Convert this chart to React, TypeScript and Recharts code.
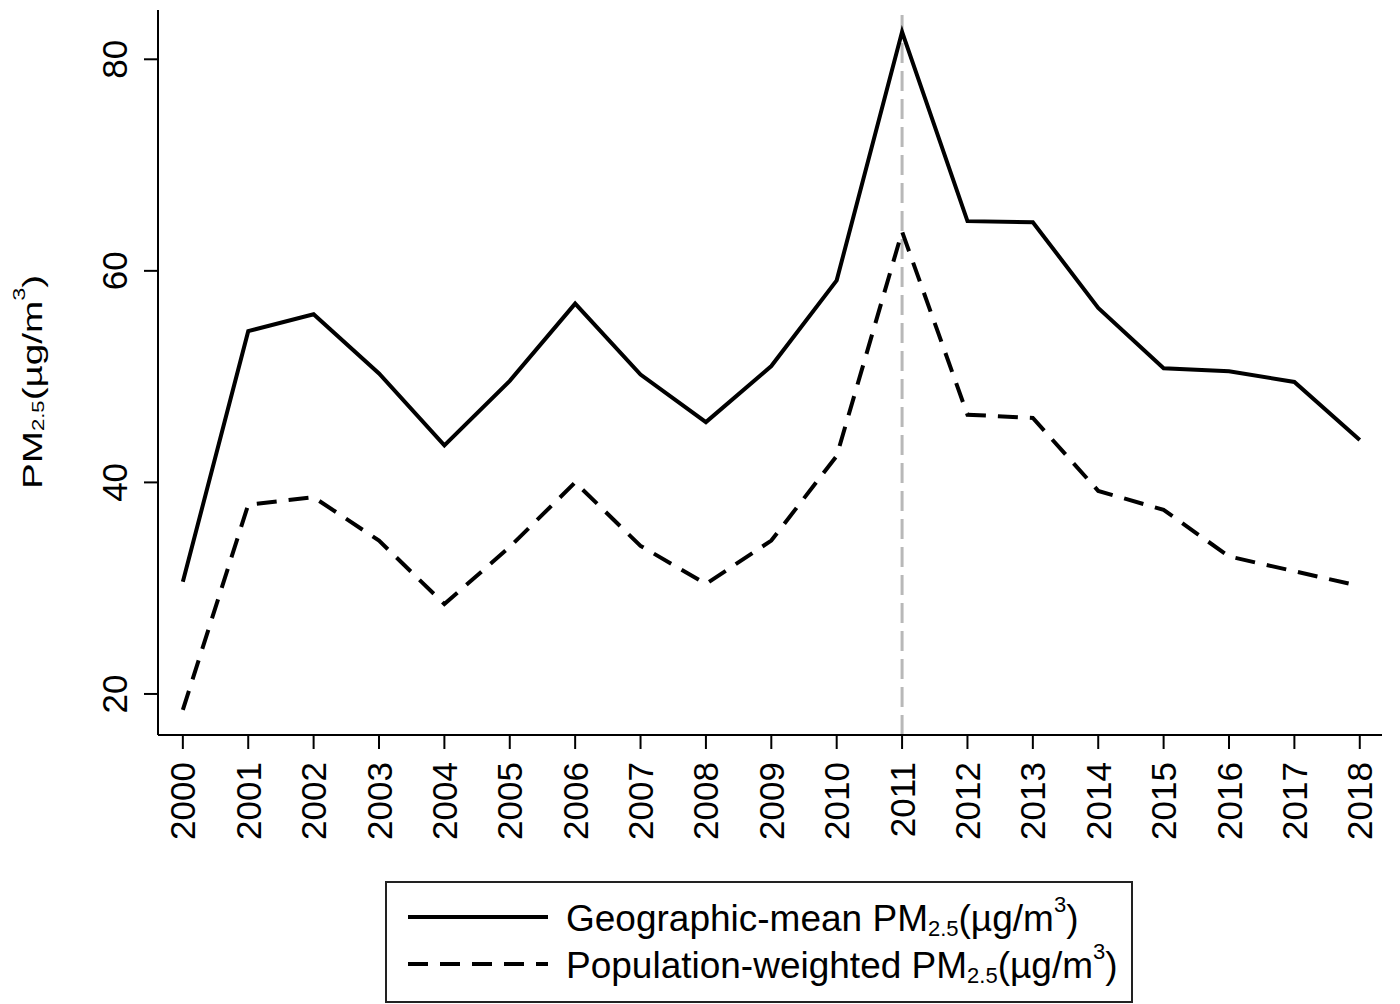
import React from "react";
import { LineChart, Line, XAxis, YAxis, ReferenceLine, Legend } from "recharts";

const YEARS = [2000, 2001, 2002, 2003, 2004, 2005, 2006, 2007, 2008, 2009, 2010, 2011, 2012, 2013, 2014, 2015, 2016, 2017, 2018];
const GEO_MEAN = [30.6, 54.3, 55.9, 50.3, 43.5, 49.6, 56.9, 50.2, 45.7, 51.0, 59.1, 82.6, 64.7, 64.6, 56.5, 50.8, 50.5, 49.5, 44.0];
const POP_WEIGHTED = [18.5, 37.9, 38.6, 34.5, 28.5, 33.9, 40.0, 34.0, 30.4, 34.5, 42.5, 63.7, 46.4, 46.1, 39.2, 37.4, 33.0, 31.6, 30.2];
const Y_TICKS = [20, 40, 60, 80];
const MARK_YEAR = 2011;

const SERIES = [
  { key: "geo", label: "Geographic-mean", dash: undefined as string | undefined },
  { key: "pop", label: "Population-weighted", dash: "20 12" },
];

const FONT = "'Liberation Sans', Arial, Helvetica, sans-serif";

const data = YEARS.map((year, i) => ({ year, geo: GEO_MEAN[i], pop: POP_WEIGHTED[i] }));

function XTick({ x, y, payload }: any) {
  return (
    <text transform={`translate(${x + 12.5},${y}) rotate(-90)`} textAnchor="end" fontSize={35} fontFamily={FONT} fill="#000">
      {payload.value}
    </text>
  );
}

function YTick({ x, y, payload }: any) {
  return (
    <text transform={`translate(${x},${y}) rotate(-90)`} textAnchor="middle" fontSize={35} fontFamily={FONT} fill="#000">
      {payload.value}
    </text>
  );
}

function YLabel() {
  // stretched along its length like the original export
  return (
    <g transform="translate(42,489) rotate(-90) scale(1.38,1)">
      <text x={0} y={0} fontSize={28} fontFamily={FONT} fill="#000">
        PM
        <tspan fontSize={16} dy={2}>2.5</tspan>
        <tspan fontSize={28} dy={-2}>(µg/m</tspan>
        <tspan fontSize={17} dy={-17}>3</tspan>
        <tspan fontSize={28} dy={17}>)</tspan>
      </text>
    </g>
  );
}

function LegendBox() {
  return (
    <svg width={748} height={122} style={{ display: "block" }}>
      <rect x={1} y={1} width={746} height={120} fill="#fff" stroke="#222" strokeWidth={2} />
      {SERIES.map((s, i) => {
        const ly = 36 + i * 47;
        return (
          <g key={s.key}>
            <line x1={23} x2={163} y1={ly} y2={ly} stroke="#000" strokeWidth={4} strokeDasharray={s.dash} />
            <text x={181} y={ly + 14} fontSize={37} fontFamily={FONT} fill="#000">
              {s.label} PM
              <tspan fontSize={22} dy={5}>2.5</tspan>
              <tspan fontSize={37} dy={-5}>(µg/m</tspan>
              <tspan fontSize={22} dy={-19}>3</tspan>
              <tspan fontSize={37} dy={19}>)</tspan>
            </text>
          </g>
        );
      })}
    </svg>
  );
}

export default function App() {
  return (
    <div style={{ position: "absolute", left: 0, top: 0, width: 1400, height: 1004, background: "#fff" }}>
      <LineChart width={1400} height={1004} data={data} margin={{ top: 10, right: 18, bottom: 139, left: 0 }}>
        <XAxis
          dataKey="year"
          type="number"
          domain={[1999.62, 2018.34]}
          ticks={YEARS}
          allowDataOverflow
          interval={0}
          height={130}
          tickSize={14}
          tickMargin={13}
          tick={<XTick />}
          axisLine={{ stroke: "#000", strokeWidth: 2 }}
          tickLine={{ stroke: "#000", strokeWidth: 2 }}
        />
        <YAxis
          type="number"
          domain={[16.12, 84.66]}
          ticks={Y_TICKS}
          allowDataOverflow
          width={158}
          tickSize={14}
          tickMargin={17}
          tick={<YTick />}
          axisLine={{ stroke: "#000", strokeWidth: 2 }}
          tickLine={{ stroke: "#000", strokeWidth: 2 }}
          label={<YLabel />}
        />
        <ReferenceLine x={MARK_YEAR} stroke="#b8b8b8" strokeWidth={3} strokeDasharray="20 8" />
        <Line type="linear" dataKey="geo" name="Geographic-mean" stroke="#000" strokeWidth={4} dot={false} isAnimationActive={false} />
        <Line type="linear" dataKey="pop" name="Population-weighted" stroke="#000" strokeWidth={4} strokeDasharray="20 12" dot={false} isAnimationActive={false} />
        <Legend
          layout="horizontal"
          verticalAlign="middle"
          align="center"
          content={() => <LegendBox />}
          wrapperStyle={{ left: 385, top: 881, width: 748, height: 122 }}
        />
      </LineChart>
    </div>
  );
}
